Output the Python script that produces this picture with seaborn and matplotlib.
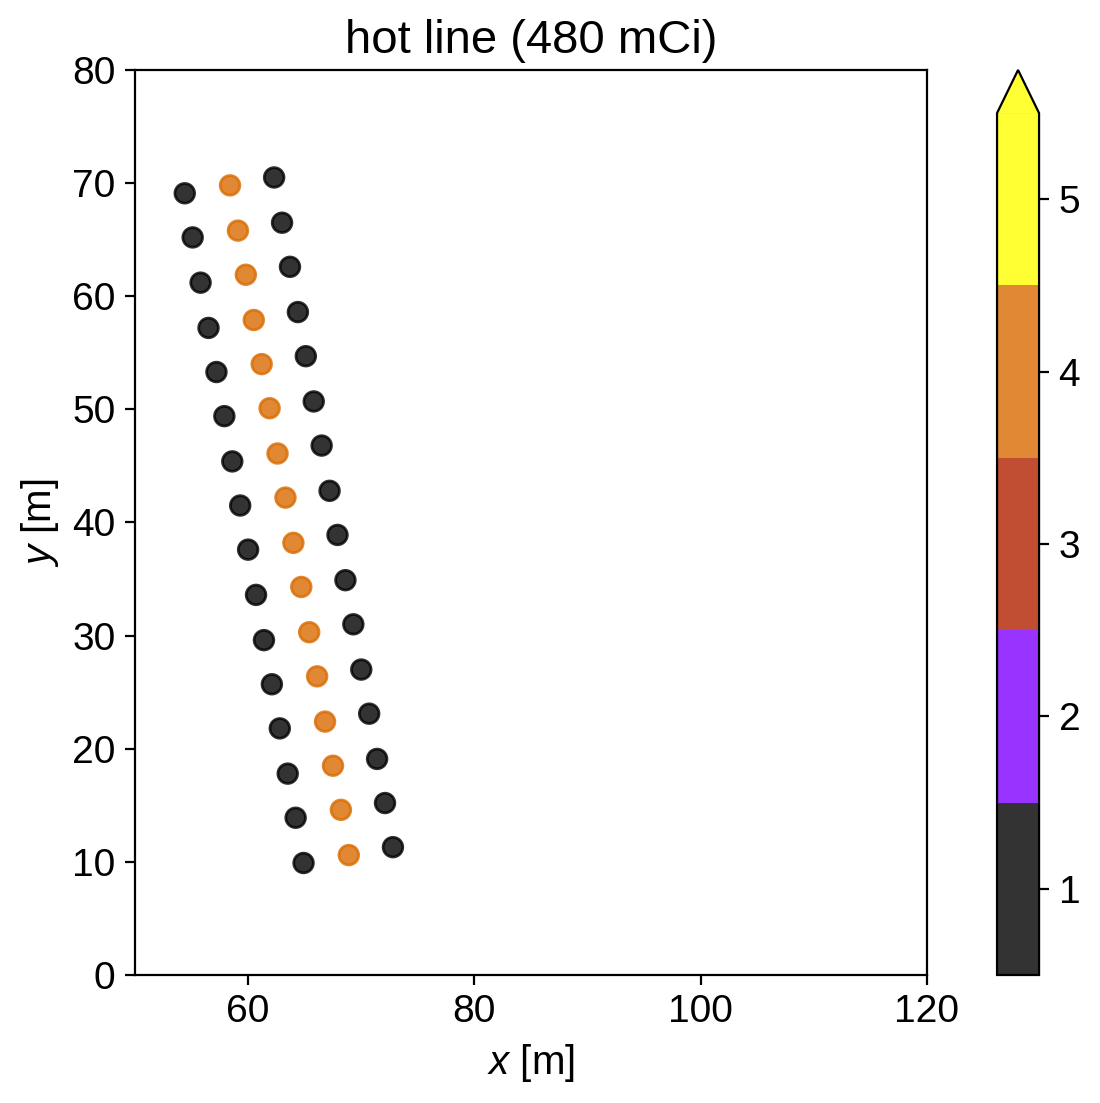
import numpy as np
import pandas as pd
import seaborn as sns
from matplotlib import pyplot as plt
from matplotlib.colors import ListedColormap, BoundaryNorm
from matplotlib.cm import ScalarMappable

# source positions (m), three columns of the line
x_left = [54.4, 55.1, 55.8, 56.5, 57.2, 57.9, 58.6, 59.3,
          60.0, 60.7, 61.4, 62.1, 62.8, 63.5, 64.2, 64.9]
y_left = [69.1, 65.2, 61.2, 57.2, 53.3, 49.4, 45.4, 41.5,
          37.6, 33.6, 29.6, 25.7, 21.8, 17.8, 13.9, 9.9]
level_left = [1] * 16

x_mid = [58.4, 59.1, 59.8, 60.5, 61.2, 61.9, 62.6, 63.3,
         64.0, 64.7, 65.4, 66.1, 66.8, 67.5, 68.2, 68.9]
y_mid = [69.8, 65.8, 61.9, 57.9, 54.0, 50.1, 46.1, 42.2,
         38.2, 34.3, 30.3, 26.4, 22.4, 18.5, 14.6, 10.6]
level_mid = [4] * 16

x_right = [62.3, 63.0, 63.7, 64.4, 65.1, 65.8, 66.5, 67.2,
           67.9, 68.6, 69.3, 70.0, 70.7, 71.4, 72.1, 72.8]
y_right = [70.5, 66.5, 62.6, 58.6, 54.7, 50.7, 46.8, 42.8,
           38.9, 34.9, 31.0, 27.0, 23.1, 19.1, 15.2, 11.3]
level_right = [1] * 16

levels = [1, 2, 3, 4, 5]
level_colors = ["#000000", "#8000ff", "#b22200", "#d96b00", "#ffff00"]
title = "hot line (480 mCi)"

plt.rcParams["font.family"] = ["Liberation Sans", "DejaVu Sans"]
plt.rcParams["mathtext.fontset"] = "custom"
plt.rcParams["mathtext.rm"] = "Liberation Sans"
plt.rcParams["mathtext.it"] = "Liberation Sans:italic"
plt.rcParams["font.size"] = 14

data = pd.DataFrame({
    "x": x_left + x_mid + x_right,
    "y": y_left + y_mid + y_right,
    "level": level_left + level_mid + level_right,
})

fig = plt.figure(figsize=(5.5, 5.515), dpi=200)
ax = fig.add_axes([0.1227, 0.11605, 0.72, 0.8205])
cax = fig.add_axes([0.9064, 0.11605, 0.0382, 0.8205])

palette = dict(zip(levels, level_colors))
sns.scatterplot(data=data, x="x", y="y", hue="level", palette=palette,
                s=50, alpha=0.8, linewidth=1, legend=False, ax=ax)
# edges in the same colour as the faces
for coll in ax.collections:
    coll.set_edgecolor(coll.get_facecolor())

ax.set_xlim(50, 120)
ax.set_ylim(0, 80)
ax.set_xticks([60, 80, 100, 120])
ax.set_yticks(np.arange(0, 81, 10))
ax.set_xlabel("$x$ [m]", fontsize=14.5)
ax.set_ylabel("$y$ [m]", fontsize=14.5)
ax.set_title(title, fontsize=17)

cmap = ListedColormap(level_colors)
cmap.set_over(level_colors[-1])
norm = BoundaryNorm([0.5, 1.5, 2.5, 3.5, 4.5, 5.5], cmap.N)
sm = ScalarMappable(norm=norm, cmap=cmap)
cb = fig.colorbar(sm, cax=cax, extend="max", ticks=levels, alpha=0.8)
cb.minorticks_off()

fig.savefig("out.png", dpi=200)
